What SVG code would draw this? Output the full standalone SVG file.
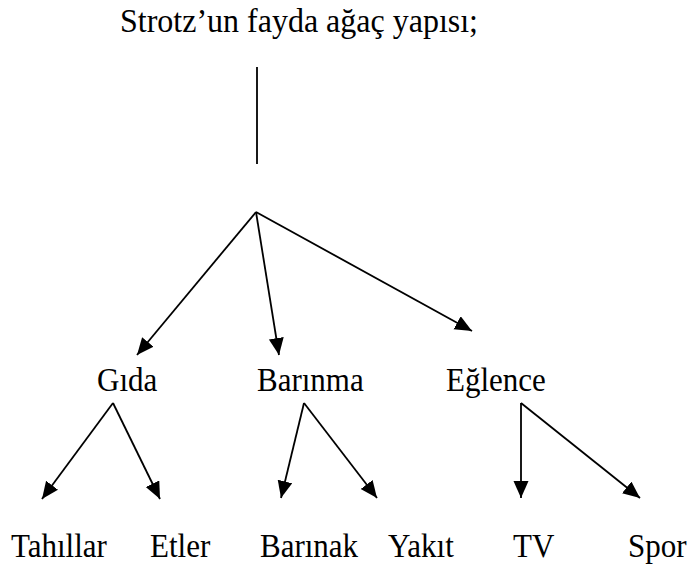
<svg xmlns="http://www.w3.org/2000/svg" width="689" height="567" viewBox="0 0 689 567">
<defs>
<style>
.t{font-family:"Liberation Serif","Times New Roman",serif;fill:#000;}
.title{font-size:32px;}
.lbl{font-size:31px;}
.c line{stroke:#000;stroke-width:1.8;fill:none;}
.arr{marker-end:url(#ah);}
</style>
<marker id="ah" markerUnits="userSpaceOnUse" markerWidth="18" markerHeight="16" refX="17" refY="7.5" orient="auto">
<path d="M0,0 L17,7.5 L0,15 z" fill="#000"/>
</marker>
</defs>
<rect width="689" height="567" fill="#fff"/>
<g id="title"><text class="t title" transform="translate(120,32) scale(1,1.08)">Strotz’un fayda ağaç yapısı;</text></g>
<g id="connectors" class="c">
<line x1="257" y1="67" x2="257" y2="164"/>
<line class="arr" x1="256" y1="212" x2="137" y2="355"/>
<line class="arr" x1="256" y1="212" x2="279" y2="355"/>
<line class="arr" x1="256" y1="212" x2="472" y2="331"/>
<line class="arr" x1="113" y1="403" x2="42" y2="499"/>
<line class="arr" x1="113" y1="403" x2="160" y2="499"/>
<line class="arr" x1="304" y1="403" x2="281" y2="498"/>
<line class="arr" x1="304" y1="403" x2="377" y2="498"/>
<line class="arr" x1="521" y1="403" x2="521" y2="498"/>
<line class="arr" x1="521" y1="403" x2="640" y2="498"/>
</g>
<g id="gida"><text class="t lbl" transform="translate(97,391) scale(1,1.08)">Gıda</text></g>
<g id="barinma"><text class="t lbl" transform="translate(257,391) scale(1,1.08)">Barınma</text></g>
<g id="eglence"><text class="t lbl" transform="translate(446,391) scale(1,1.08)">Eğlence</text></g>
<g id="tahillar"><text class="t lbl" transform="translate(11,557) scale(1,1.08)">Tahıllar</text></g>
<g id="etler"><text class="t lbl" transform="translate(150,557) scale(1,1.08)">Etler</text></g>
<g id="barinak"><text class="t lbl" transform="translate(260,557) scale(1,1.08)">Barınak</text></g>
<g id="yakit"><text class="t lbl" transform="translate(388,557) scale(1,1.08)">Yakıt</text></g>
<g id="tv"><text class="t lbl" transform="translate(513,557) scale(1,1.08)">TV</text></g>
<g id="spor"><text class="t lbl" transform="translate(628,557) scale(1,1.08)">Spor</text></g>
</svg>
